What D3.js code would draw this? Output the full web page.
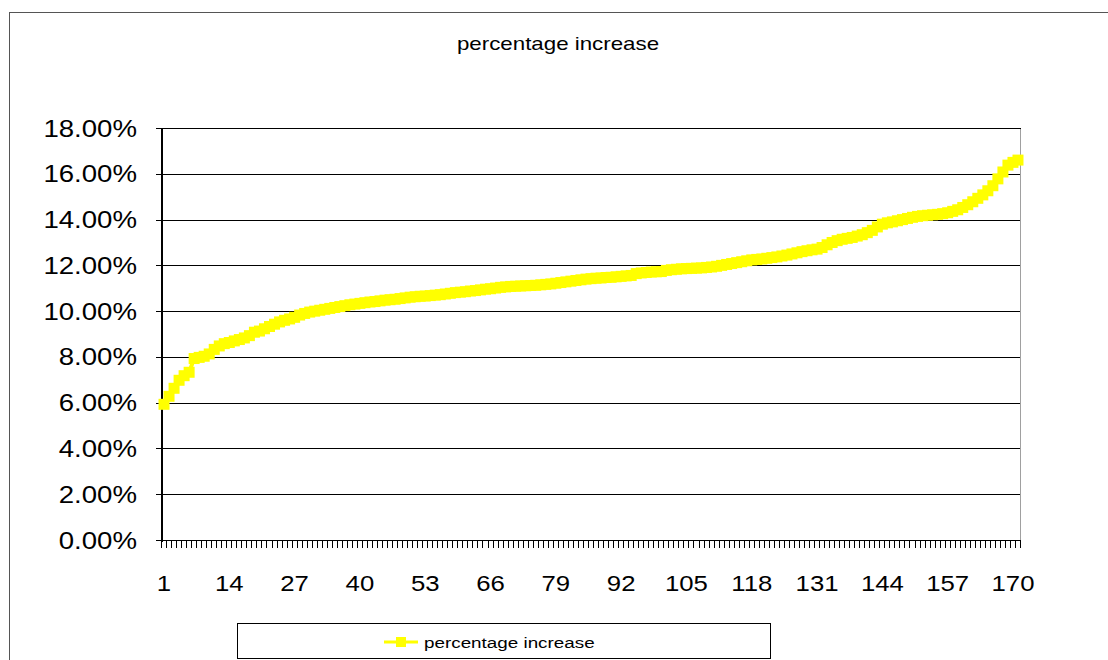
<!DOCTYPE html>
<html>
<head>
<meta charset="utf-8">
<script src="https://cdn.jsdelivr.net/npm/d3@7"></script>
<style>
  html, body { margin: 0; padding: 0; background: #ffffff; }
  svg { display: block; }
  text { font-family: "Liberation Sans", Arial, sans-serif; fill: #000; }
</style>
</head>
<body>
<svg id="chart" width="1108" height="660"></svg>
<script>
// Percentage increase per item, items 1..171, sorted ascending
const increasePct = [
  5.95, 6.30, 6.65, 7.00, 7.20, 7.35, 7.95, 8.00, 8.05, 8.15,
  8.35, 8.50, 8.60, 8.65, 8.72, 8.78, 8.85, 8.95, 9.10, 9.15,
  9.25, 9.35, 9.45, 9.55, 9.62, 9.68, 9.75, 9.85, 9.92, 9.98,
  10.02, 10.06, 10.10, 10.14, 10.18, 10.22, 10.26, 10.30, 10.33, 10.36,
  10.39, 10.42, 10.44, 10.47, 10.50, 10.52, 10.54, 10.57, 10.60, 10.63,
  10.65, 10.67, 10.68, 10.70, 10.72, 10.74, 10.77, 10.80, 10.83, 10.85,
  10.87, 10.90, 10.92, 10.95, 10.98, 11.00, 11.03, 11.06, 11.08, 11.10,
  11.11, 11.12, 11.13, 11.14, 11.15, 11.17, 11.19, 11.21, 11.24, 11.27,
  11.30, 11.33, 11.36, 11.39, 11.42, 11.44, 11.46, 11.47, 11.49, 11.50,
  11.52, 11.54, 11.56, 11.58, 11.66, 11.69, 11.71, 11.73, 11.74, 11.75,
  11.80, 11.83, 11.85, 11.87, 11.88, 11.89, 11.90, 11.91, 11.93, 11.95,
  11.98, 12.02, 12.06, 12.10, 12.14, 12.18, 12.22, 12.26, 12.28, 12.30,
  12.33, 12.36, 12.39, 12.43, 12.47, 12.52, 12.57, 12.62, 12.66, 12.70,
  12.73, 12.80, 12.92, 13.02, 13.10, 13.16, 13.20, 13.24, 13.30, 13.36,
  13.45, 13.55, 13.70, 13.82, 13.88, 13.92, 13.97, 14.02, 14.07, 14.12,
  14.16, 14.19, 14.21, 14.23, 14.25, 14.28, 14.32, 14.38, 14.45, 14.55,
  14.67, 14.80, 14.95, 15.10, 15.28, 15.50, 15.80, 16.10, 16.40, 16.52,
  16.62
];
const categories = increasePct.map((_, i) => String(i + 1));
const xTickLabels = ["1", "14", "27", "40", "53", "66", "79", "92", "105", "118", "131", "144", "157", "170"];
const yTickValues = [0, 0.02, 0.04, 0.06, 0.08, 0.10, 0.12, 0.14, 0.16, 0.18];
const seriesName = "percentage increase";
const chartTitle = "percentage increase";

const svg = d3.select("#chart");
const plot = { left: 161.5, right: 1020.5, top: 128.5, bottom: 540.5 };

const x = d3.scaleBand().domain(categories).range([plot.left, plot.right]).padding(0);
const y = d3.scaleLinear().domain([0, 0.18]).range([plot.bottom, plot.top]);
const fmt = d3.format(".2%");

// text drawn slightly wider than the font's natural width
function stretchedText(g, px, py, str, size, anchor, sx) {
  return g.append("text")
    .attr("transform", `translate(${px},${py}) scale(${sx},1)`)
    .attr("text-anchor", anchor)
    .style("font-size", size + "px")
    .text(str);
}

// chart frame
svg.append("rect")
  .attr("x", 9.5).attr("y", 12.5).attr("width", 1200).attr("height", 700)
  .attr("fill", "#fff").attr("stroke", "#555").attr("stroke-width", 1);

// title
stretchedText(svg, 558, 50, chartTitle, 18, "middle", 1.24);

// horizontal gridlines + y ticks
const grid = svg.append("g").attr("shape-rendering", "crispEdges");
yTickValues.forEach(v => {
  grid.append("line")
    .attr("x1", plot.left - 6).attr("x2", plot.right)
    .attr("y1", y(v)).attr("y2", y(v))
    .attr("stroke", "#000").attr("stroke-width", 1);
});

// plot area right border
grid.append("line")
  .attr("x1", plot.right).attr("x2", plot.right)
  .attr("y1", plot.top).attr("y2", plot.bottom)
  .attr("stroke", "#a0a0a0").attr("stroke-width", 1.5);

// axes
grid.append("line")
  .attr("x1", plot.left).attr("x2", plot.left)
  .attr("y1", plot.top).attr("y2", plot.bottom + 1)
  .attr("stroke", "#000").attr("stroke-width", 2);
grid.append("line")
  .attr("x1", plot.left).attr("x2", plot.right)
  .attr("y1", plot.bottom).attr("y2", plot.bottom)
  .attr("stroke", "#000").attr("stroke-width", 1.5);

// category tick marks between bands
const tickPos = categories.map(c => x(c)).concat([plot.right]);
grid.selectAll("line.xtick").data(tickPos).join("line")
  .attr("class", "xtick")
  .attr("x1", d => d).attr("x2", d => d)
  .attr("y1", plot.bottom).attr("y2", plot.bottom + 7)
  .attr("stroke", "#000").attr("stroke-width", 1);

// y labels
const yLab = svg.append("g");
yTickValues.forEach(v => {
  stretchedText(yLab, 137, y(v) + 8, fmt(v), 23, "end", 1.2);
});

// x labels
const xLab = svg.append("g");
xTickLabels.forEach(c => {
  stretchedText(xLab, x(c) + x.bandwidth() / 2, 591, c, 23, "middle", 1.12);
});

// series
const yellow = "#ffff00";
const pts = increasePct.map((v, i) => ({ c: categories[i], v: v / 100 }));
const line = d3.line().x(d => x(d.c) + x.bandwidth() / 2).y(d => y(d.v));
svg.append("path")
  .datum(pts)
  .attr("d", line)
  .attr("fill", "none").attr("stroke", yellow).attr("stroke-width", 4);
const ms = 11;
svg.append("g").selectAll("rect").data(pts).join("rect")
  .attr("x", d => x(d.c) + x.bandwidth() / 2 - ms / 2)
  .attr("y", d => y(d.v) - ms / 2)
  .attr("width", ms).attr("height", ms)
  .attr("fill", yellow);

// legend
const lg = svg.append("g");
lg.append("rect")
  .attr("x", 237.5).attr("y", 623.5).attr("width", 533).attr("height", 35)
  .attr("fill", "#fff").attr("stroke", "#000").attr("stroke-width", 1);
lg.append("line")
  .attr("x1", 384).attr("x2", 418).attr("y1", 642).attr("y2", 642)
  .attr("stroke", yellow).attr("stroke-width", 3);
lg.append("rect")
  .attr("x", 396).attr("y", 637).attr("width", 10).attr("height", 10)
  .attr("fill", yellow);
stretchedText(lg, 424, 647.5, seriesName, 14.5, "start", 1.3);
</script>
</body>
</html>
